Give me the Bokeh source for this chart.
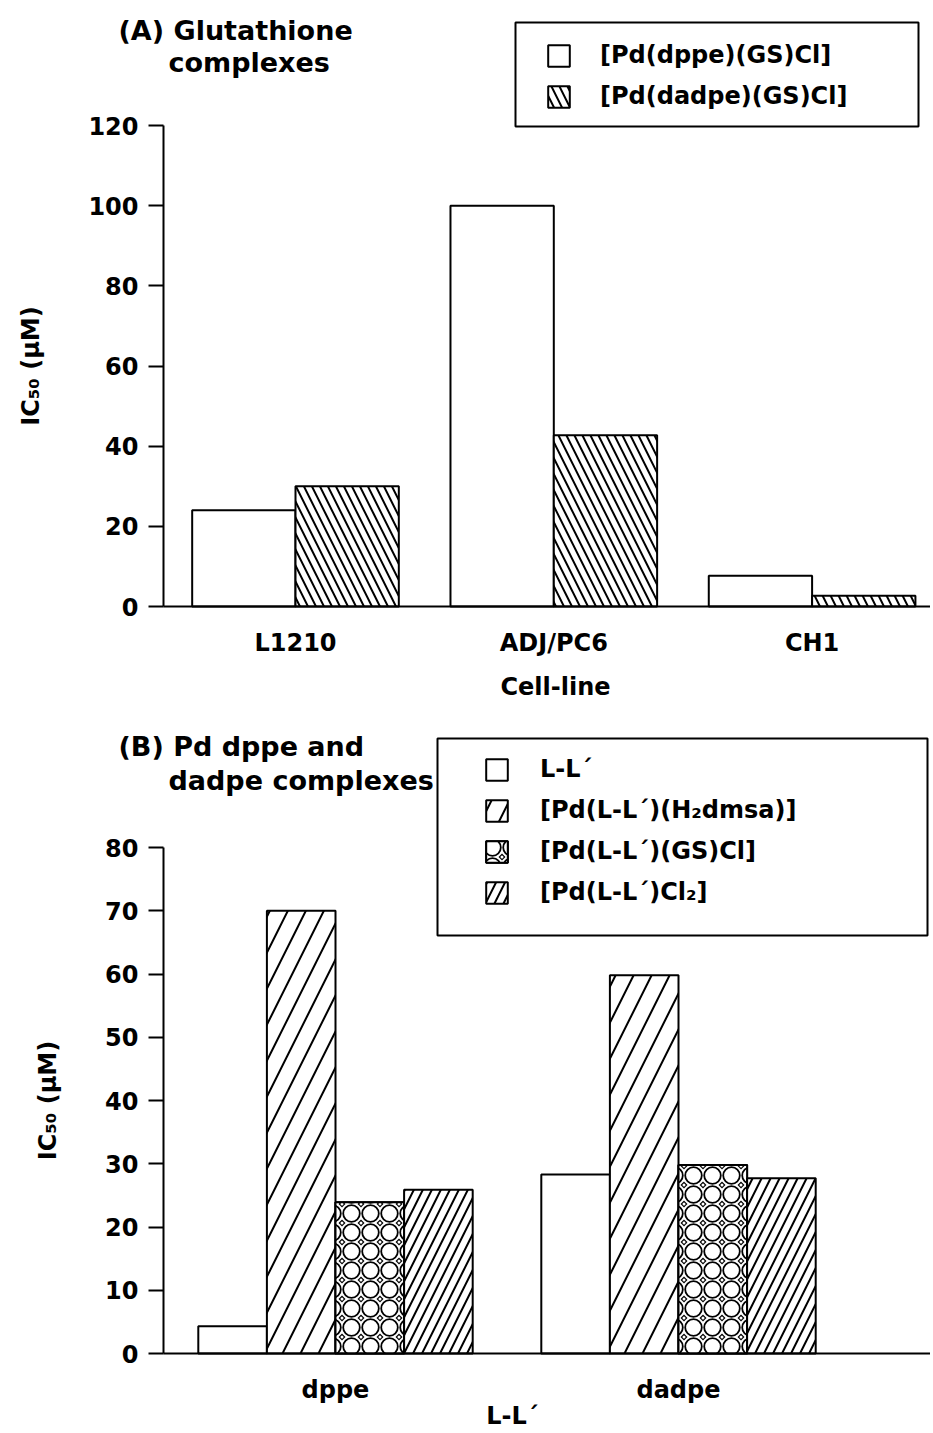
from bokeh.plotting import figure
from bokeh.models import (Range1d, FixedTicker, Legend, LegendItem, Label, BoxAnnotation,
                          ImageURLTexture)
from bokeh.core.properties import value
from bokeh.layouts import column
from bokeh.embed import file_html
from bokeh.resources import INLINE
import numpy as np
import base64

# ---------------- data ----------------
cell_lines = ["L1210", "ADJ/PC6", "CH1"]
pd_dppe_gs = [24.0, 100.0, 7.7]
pd_dadpe_gs = [30.0, 42.7, 2.7]
a_ticks = [0, 20, 40, 60, 80, 100, 120]
a_series = ["[Pd(dppe)(GS)Cl]", "[Pd(dadpe)(GS)Cl]"]

ligands = ["dppe", "dadpe"]
free_ligand = [4.3, 28.3]
h2dmsa = [70.0, 59.8]
gs_cl = [23.9, 29.8]
cl2 = [25.9, 27.7]
b_ticks = [0, 10, 20, 30, 40, 50, 60, 70, 80]
b_series = ["L-L\u00b4", "[Pd(L-L\u00b4)(H\u2082dmsa)]", "[Pd(L-L\u00b4)(GS)Cl]", "[Pd(L-L\u00b4)Cl\u2082]"]

FONT = "DejaVu Sans"
W = 930
HA, HB = 710, 720


def make_fig(h, xs, xe, ys, ye):
    p = figure(width=W, height=h, output_backend="svg", toolbar_location=None,
               x_range=Range1d(xs, xe), y_range=Range1d(ys, ye),
               min_border_left=0, min_border_right=0, min_border_top=0, min_border_bottom=0)
    p.xgrid.grid_line_color = None
    p.ygrid.grid_line_color = None
    p.outline_line_color = None
    p.background_fill_color = "white"
    p.border_fill_color = "white"
    return p


def style_axes(p, ticks, yaxis_x, xend):
    ax = p.yaxis[0]
    ax.fixed_location = yaxis_x
    ax.bounds = (ticks[0], ticks[-1])
    ax.ticker = FixedTicker(ticks=ticks)
    ax.minor_tick_line_color = None
    ax.major_tick_in = 0
    ax.major_tick_out = 15
    ax.major_tick_line_width = 2
    ax.major_tick_line_color = "black"
    ax.axis_line_width = 2
    ax.axis_line_color = "black"
    ax.major_label_text_font = FONT
    ax.major_label_text_font_style = "bold"
    ax.major_label_text_font_size = "24px"
    ax.major_label_text_color = "black"
    ax.major_label_standoff = 10
    ax.axis_label = "IC\u2085\u2080 (\u03bcM)"
    ax.axis_label_text_font = FONT
    ax.axis_label_text_font_style = "bold"
    ax.axis_label_text_font_size = "24px"
    ax.axis_label_text_color = "black"
    ax.axis_label_standoff = 40
    bx = p.xaxis[0]
    bx.fixed_location = 0
    bx.bounds = (yaxis_x, xend)
    bx.major_tick_out = 0
    bx.major_tick_in = 0
    bx.minor_tick_line_color = None
    bx.axis_line_width = 2
    bx.axis_line_color = "black"
    bx.major_label_text_font = FONT
    bx.major_label_text_font_style = "bold"
    bx.major_label_text_font_size = "24px"
    bx.major_label_text_color = "black"
    bx.major_label_standoff = 22


def text_label(p, text, x, y, size="24px", align="left"):
    p.add_layout(Label(x=x, y=y, x_units="screen", y_units="screen", text=text,
                       text_font=FONT, text_font_style="bold", text_font_size=size,
                       text_color="black", text_baseline="middle", text_align=align))


def legend_box(p, left, right, top, bottom):
    p.add_layout(BoxAnnotation(left=left, right=right, top=top, bottom=bottom,
                               left_units="screen", right_units="screen",
                               top_units="screen", bottom_units="screen",
                               fill_alpha=0, line_color="black", line_width=2, line_alpha=1))


# octagon-mesh tile (rings with small dotted diamonds between them)
_t = 19
_tile = ["<svg xmlns='http://www.w3.org/2000/svg' width='%d' height='%d' viewBox='0 0 %d %d'>" % (_t, _t, _t, _t),
         "<rect width='%d' height='%d' fill='white'/>" % (_t, _t),
         "<circle cx='%.1f' cy='%.1f' r='8.3' fill='none' stroke='black' stroke-width='1.8'/>" % (_t / 2, _t / 2)]
for cx, cy in [(0, 0), (_t, 0), (0, _t), (_t, _t)]:
    _tile.append("<path d='M%.1f %.1f L%.1f %.1f L%.1f %.1f L%.1f %.1f Z' fill='black'/>"
                 % (cx, cy - 3.5, cx + 3.5, cy, cx, cy + 3.5, cx - 3.5, cy))
    _tile.append("<circle cx='%d' cy='%d' r='1.5' fill='white'/>" % (cx, cy))
_tile.append("</svg>")
octagon = ImageURLTexture(url="data:image/svg+xml;base64," + base64.b64encode("".join(_tile).encode()).decode())

BAR = dict(fill_color="white", line_color="black", line_width=2)

# ---------------- panel A ----------------
kxa, x0a = 258.3, 295.0            # px per category, px of first category
kya, y0a = 481.0 / 120.0, 606.0    # px per unit, px of zero
pa = make_fig(HA, -x0a / kxa, (W - x0a) / kxa, -(HA - y0a) / kya, y0a / kya)
ya_x = (163 - x0a) / kxa
style_axes(pa, a_ticks, ya_x, (W - x0a) / kxa)
xa = np.arange(len(cell_lines))
pa.xaxis[0].ticker = FixedTicker(ticks=list(xa))
pa.xaxis[0].major_label_overrides = {int(i): c for i, c in zip(xa, cell_lines)}

ra1 = pa.vbar(x=xa - 0.2, top=pd_dppe_gs, width=0.4, **BAR)
ra2 = pa.vbar(x=xa + 0.2, top=pd_dadpe_gs, width=0.4, **BAR,
              hatch_pattern="left_diagonal_line", hatch_color="black", hatch_weight=2, hatch_scale=16)

legend_box(pa, 515, 918, HA - 22, HA - 126)
leg_a = Legend(items=[LegendItem(label=a_series[0], renderers=[ra1]),
                      LegendItem(label=a_series[1], renderers=[ra2])],
               location=(537, HA - 118), orientation="vertical",
               label_text_font=FONT, label_text_font_style="bold", label_text_font_size="24px",
               label_text_color="black", label_height=28,
               glyph_width=27, glyph_height=27, label_standoff=28, spacing=13, padding=8,
               border_line_alpha=0, background_fill_color="white", background_fill_alpha=0)
pa.add_layout(leg_a, "center")

text_label(pa, "Cell-line", 555, HA - 686, align="center")
text_label(pa, "(A)  Glutathione", 118, HA - 30, size="27px")
text_label(pa, "complexes", 168, HA - 62, size="27px")

# ---------------- panel B ----------------
kxb, x0b = 343.0, 335.0
kyb, y0b = 506.0 / 80.0, 643.0
pb = make_fig(HB, -x0b / kxb, (W - x0b) / kxb, -(HB - y0b) / kyb, y0b / kyb)
yb_x = (163 - x0b) / kxb
style_axes(pb, b_ticks, yb_x, (W - x0b) / kxb)
xb = np.arange(len(ligands))
pb.xaxis[0].ticker = FixedTicker(ticks=list(xb))
pb.xaxis[0].major_label_overrides = {int(i): c for i, c in zip(xb, ligands)}

bw = 0.2
rb1 = pb.vbar(x=xb - 0.3, top=free_ligand, width=bw, **BAR)
rb2 = pb.vbar(x=xb - 0.1, top=h2dmsa, width=bw, **BAR,
              hatch_pattern="right_diagonal_line", hatch_color="black", hatch_weight=2, hatch_scale=36)
rb3 = pb.vbar(x=xb + 0.1, top=gs_cl, width=bw, **BAR,
              hatch_pattern="ring", hatch_color="black", hatch_weight=3, hatch_scale=17)
rb3b = pb.vbar(x=xb + 0.1, top=gs_cl, width=bw, fill_alpha=0, line_color="black", line_width=2,
               hatch_pattern=value("octagon"), hatch_extra={"octagon": octagon}, hatch_alpha=1.0)
rb4 = pb.vbar(x=xb + 0.3, top=cl2, width=bw, **BAR,
              hatch_pattern="right_diagonal_line", hatch_color="black", hatch_weight=2, hatch_scale=18)

legend_box(pb, 437, 927, HB - 28, HB - 225)
leg_b = Legend(items=[LegendItem(label=b_series[0], renderers=[rb1]),
                      LegendItem(label=b_series[1], renderers=[rb2]),
                      LegendItem(label=b_series[2], renderers=[rb3, rb3b]),
                      LegendItem(label=b_series[3], renderers=[rb4])],
               location=(475, HB - 204), orientation="vertical",
               label_text_font=FONT, label_text_font_style="bold", label_text_font_size="24px",
               label_text_color="black", label_height=28,
               glyph_width=27, glyph_height=27, label_standoff=30, spacing=13, padding=8,
               border_line_alpha=0, background_fill_color="white", background_fill_alpha=0)
pb.add_layout(leg_b, "center")

text_label(pb, "L-L\u00b4", 512, HB - 705, align="center")
text_label(pb, "(B)  Pd dppe and", 118, HB - 36, size="27px")
text_label(pb, "dadpe complexes", 168, HB - 70, size="27px")

layout = column(pa, pb, spacing=0)
open("out.html", "w").write(file_html(layout, INLINE))
